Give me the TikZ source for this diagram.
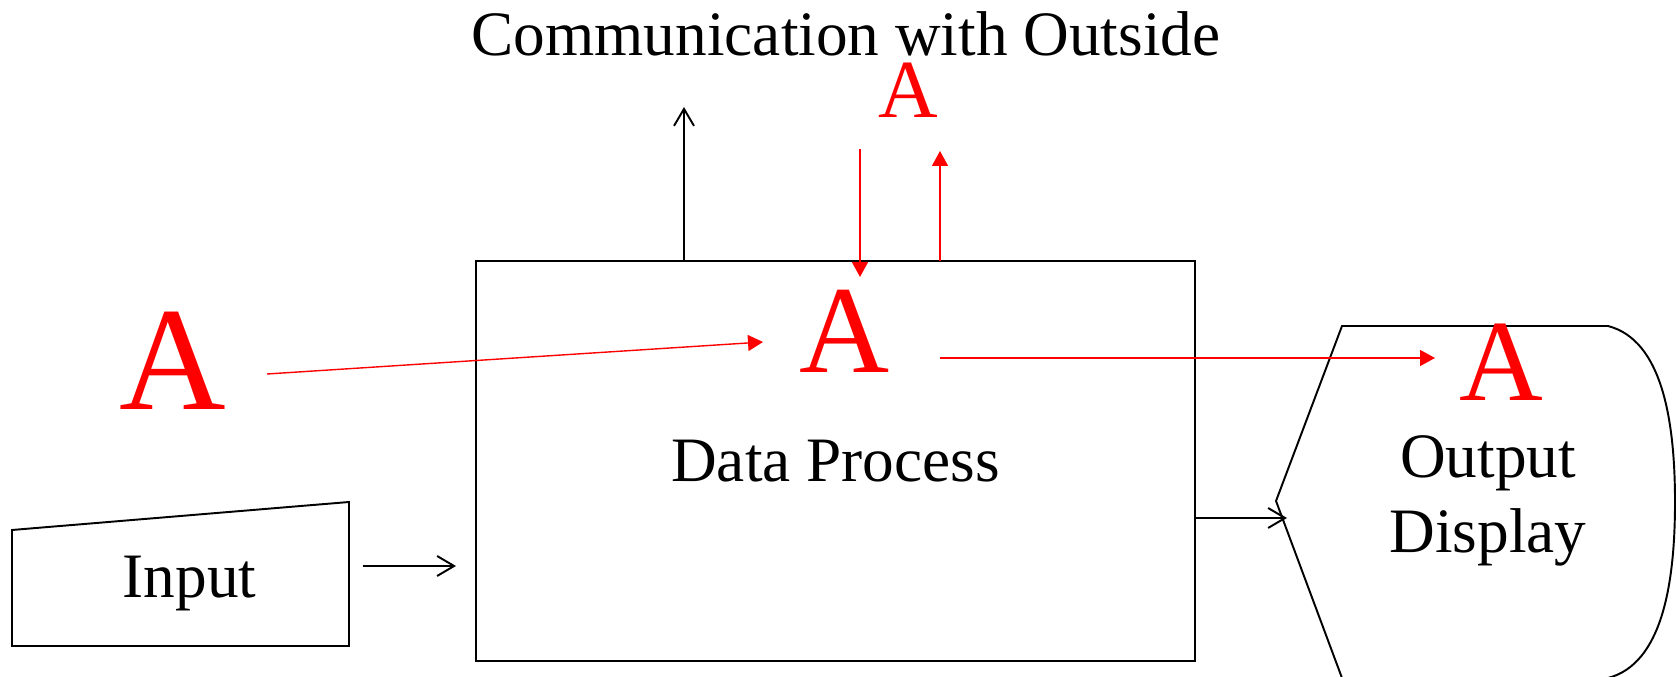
\documentclass[tikz,border=0pt]{standalone}
\usepackage{fontspec}
\setmainfont{Liberation Serif}
\usetikzlibrary{arrows.meta}
\begin{document}
\begin{tikzpicture}[x=0.2mm, y=-0.2mm,
  lbl/.style = {inner sep=0pt, anchor=base, font=\fontsize{36}{43}\selectfont},
  bigA/.style = {inner sep=0pt, anchor=base, text=red},
  blk/.style = {line width=1.1pt},
  blkarr/.style = {blk, -{Straight Barb[length=3.4mm, width=4mm]}},
  redarr/.style = {red, line width=0.8pt, -{Triangle[length=3mm, width=3.2mm]}}]
  \useasboundingbox (0,0) rectangle (1676,677);
  % process box
  \node[blk, draw, minimum width=143.8mm, minimum height=80mm, inner sep=0pt,
        font=\fontsize{36}{43}\selectfont] (proc) at (835.5,461) {Data Process};
  % input
  \draw[blk] (12,530) -- (349,502) -- (349,646) -- (12,646) -- cycle;
  \node[lbl] (inp) at (189.5,598) {Input};
  % output display
  \draw[blk] (1342,326) -- (1608,326)
    .. controls (1662,340) and (1675,420) .. (1675,502)
    .. controls (1675,584) and (1662,664) .. (1608,678)
    -- (1342,678) -- (1276,501) -- cycle;
  \node[lbl, align=center] (disp) at (1488,553) {Output\\Display};
  \node[lbl] (title) at (846,55.5) {Communication with Outside};
  % letters
  \node[bigA, font=\fontsize{84}{84}\selectfont] (aleft) at (173,410) {A};
  \node[bigA, font=\fontsize{71}{71}\selectfont] (amid) at (845,373) {A};
  \node[bigA, font=\fontsize{66}{66}\selectfont] (aright) at (1501,401) {A};
  \node[bigA, font=\fontsize{47}{47}\selectfont] (atop) at (908,118) {A};
  % arrow ends
  \coordinate (in1) at (363,566);
  \coordinate (in2) at (456,566);
  \coordinate (out1) at (1195,518);
  \coordinate (out2) at (1287,518);
  \coordinate (comm1) at (684,261);
  \coordinate (comm2) at (684,107);
  \coordinate (down1) at (860,149);
  \coordinate (down2) at (860,277);
  \coordinate (up1) at (940,261);
  \coordinate (up2) at (940,151);
  \coordinate (l1) at (267,374);
  \coordinate (l2) at (763,342);
  \coordinate (r1) at (940,358);
  \coordinate (r2) at (1435,358);
  \draw[blkarr] (in1) -- (in2);
  \draw[blkarr] (out1) -- (out2);
  \draw[blkarr] (comm1) -- (comm2);
  \draw[redarr] (down1) -- (down2);
  \draw[redarr] (up1) -- (up2);
  \draw[redarr] (l1) -- (l2);
  \draw[redarr] (r1) -- (r2);
\end{tikzpicture}
\end{document}
